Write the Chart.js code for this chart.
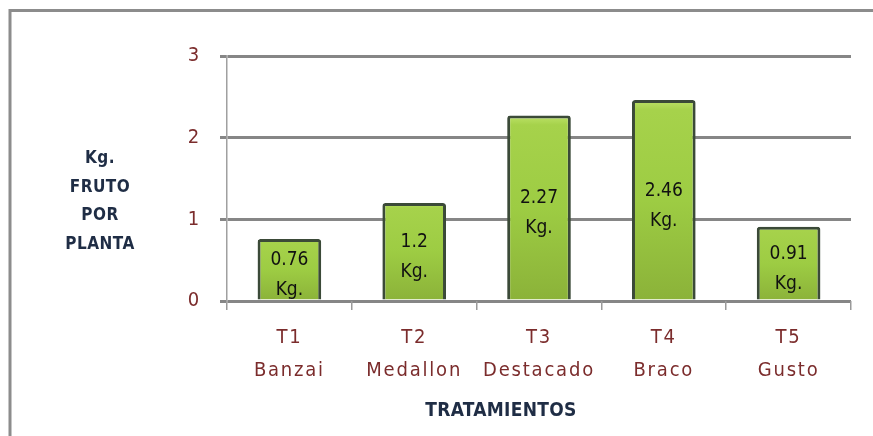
<!DOCTYPE html>
<html>
<head>
<meta charset="utf-8">
<script src="https://cdn.jsdelivr.net/npm/chart.js@4"></script>
<style>
  html, body { margin: 0; padding: 0; background: #fff; }
  #wrap { position: relative; width: 873px; height: 436px; }
</style>
</head>
<body>
<div id="wrap"><canvas id="plot" width="873" height="436"></canvas></div>
<script>
// data
const categories = [["T1", "Banzai"], ["T2", "Medallon"], ["T3", "Destacado"], ["T4", "Braco"], ["T5", "Gusto"]];
const values = [0.76, 1.2, 2.27, 2.46, 0.91];
const valueLabels = ["0.76", "1.2", "2.27", "2.46", "0.91"];
const unitLabel = "Kg.";
const yTitleLines = ["Kg.", "FRUTO", "POR", "PLANTA"];
const xTitle = "TRATAMIENTOS";

const FONT = "'Liberation Sans Narrow', 'DejaVu Sans Condensed', 'Noto Sans', sans-serif";
const RED = "#7b2c2c";
const NAVY = "#1f2d45";

const frame = {
  id: "frame",
  beforeDraw(chart) {
    const ctx = chart.ctx;
    ctx.save();
    ctx.strokeStyle = "#8c8c8c";
    ctx.lineWidth = 3;
    ctx.strokeRect(10, 10.5, 900, 500);
    ctx.restore();
    ctx.letterSpacing = "1.8px";
  },
  afterDraw(chart) {
    const ctx = chart.ctx;
    ctx.save();
    ctx.fillStyle = NAVY;
    ctx.textAlign = "center";
    ctx.textBaseline = "middle";
    ctx.font = "bold 17px " + FONT;
    ctx.letterSpacing = "0.5px";
    yTitleLines.forEach((t, i) => ctx.fillText(t, 100, 159 + i * 28.5));
    // the axis title sits left of the plot centre in the original
    ctx.font = "bold 19px " + FONT;
    ctx.letterSpacing = "0.3px";
    ctx.fillText(xTitle, 501, 411);
    ctx.restore();
  }
};

const barText = {
  id: "barText",
  afterDatasetsDraw(chart) {
    const ctx = chart.ctx;
    const meta = chart.getDatasetMeta(0);
    ctx.save();
    ctx.fillStyle = "#111";
    ctx.textAlign = "center";
    ctx.textBaseline = "middle";
    ctx.font = "19px " + FONT;
    ctx.letterSpacing = "0px";
    meta.data.forEach((bar, i) => {
      const mid = (bar.y + bar.base) / 2 + 5;
      ctx.fillText(valueLabels[i], bar.x, mid - 14);
      ctx.fillText(unitLabel, bar.x, mid + 16);
    });
    ctx.restore();
  }
};

function barFill(c) {
  const chart = c.chart;
  const ys = chart.scales.y;
  if (!ys || !chart.chartArea) return "#9ecd44";
  const top = ys.getPixelForValue(c.raw);
  const bot = ys.getPixelForValue(0);
  const g = chart.ctx.createLinearGradient(0, top, 0, bot);
  g.addColorStop(0, "#bde268");
  g.addColorStop(0.05, "#a6d24b");
  g.addColorStop(0.5, "#9dcc43");
  g.addColorStop(1, "#8bb239");
  return g;
}

new Chart(document.getElementById("plot"), {
  type: "bar",
  data: {
    labels: categories,
    datasets: [{
      data: values,
      backgroundColor: barFill,
      borderColor: "#3b4a38",
      borderWidth: { top: 3, left: 3, right: 3, bottom: 0 },
      borderRadius: { topLeft: 3, topRight: 3, bottomLeft: 0, bottomRight: 0 },
      borderSkipped: false,
      categoryPercentage: 1,
      barPercentage: 0.51
    }]
  },
  options: {
    responsive: false,
    animation: false,
    layout: { padding: { top: 56, right: 22, bottom: 38, left: 0 } },
    plugins: {
      legend: { display: false },
      tooltip: { enabled: false }
    },
    scales: {
      y: {
        min: 0,
        max: 3,
        ticks: { stepSize: 1, color: RED, font: { family: FONT, size: 20 }, padding: 19 },
        grid: { color: "#868686", lineWidth: 3, tickLength: 7, tickColor: "#868686" },
        border: { display: true, color: "#a0a0a0", width: 1.5 },
        afterFit(scale) { scale.width = 227; }
      },
      x: {
        ticks: {
          color: RED,
          font: { family: FONT, size: 20, lineHeight: 1.65 },
          padding: 11,
          maxRotation: 0,
          autoSkip: false
        },
        grid: { drawOnChartArea: false, tickLength: 9, tickColor: "#9a9a9a", lineWidth: 1.5 },
        border: { display: false }
      }
    }
  },
  plugins: [frame, barText]
});
</script>
</body>
</html>
